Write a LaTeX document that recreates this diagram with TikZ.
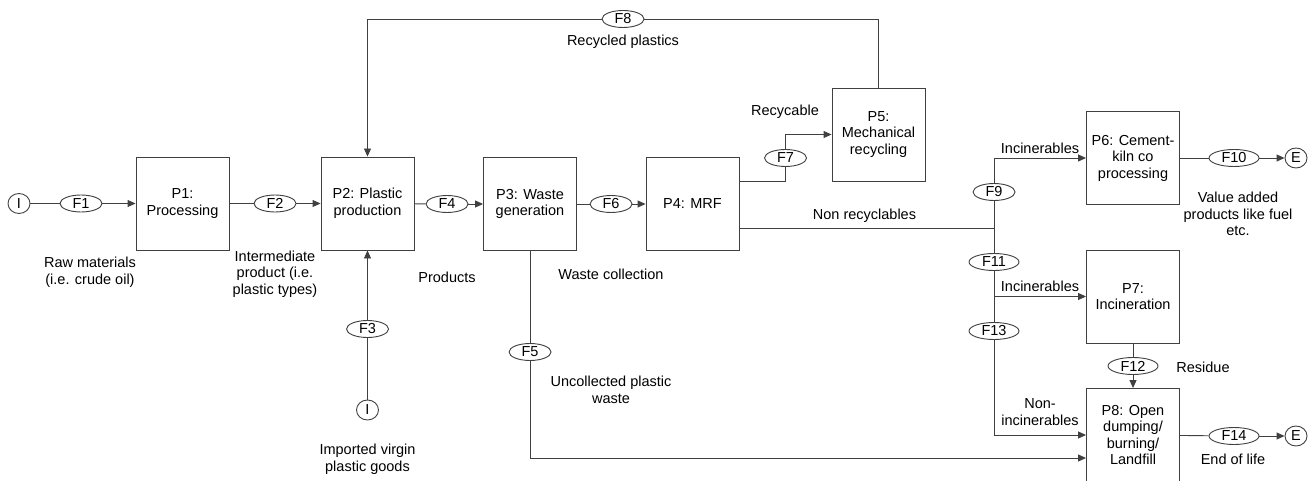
\documentclass[tikz,border=0pt]{standalone}
\usepackage{fontspec}
\setmainfont{Liberation Sans}
\usetikzlibrary{arrows.meta,shapes.geometric}

\begin{document}
\begin{tikzpicture}
[x=1pt,y=-1pt,
  every node/.style={font=\fontsize{14.5}{16.5}\selectfont,text=black},
  procdecorate/.style={draw=black!75,line width=0.9pt,minimum width=93pt,
    minimum height=93pt,align=center,inner sep=2pt},
  flowdecorate/.style={draw=black!75,line width=0.9pt,ellipse,minimum width=42pt,
    minimum height=17pt,inner sep=0pt},
  widedecorate/.style={flowdecorate,minimum width=50pt},
  enddecorate/.style={draw=black!75,line width=0.9pt,ellipse,minimum width=22pt,
    minimum height=20pt,inner sep=0pt},
  labeldecorate/.style={align=center,inner sep=0pt},
  linedecorate/.style={-,draw=black!75,line width=0.9pt},
  arrowdecorate/.style={-{Triangle[length=8pt,width=7pt]},draw=black!75,line width=0.9pt}]
\useasboundingbox (0,0) rectangle (1314,481);
%% processes
\foreach \nodename/\code/\x/\y in {p1/{P1:\\Processing}/182.5/203.5,
  p2/{P2: Plastic\\production}/367.5/203.5, p3/{P3: Waste\\generation}/530/204,
  p4/{P4: MRF}/692.5/204, p5/{P5:\\Mechanical\\recycling}/878.5/134.5,
  p6/{P6: Cement-\\kiln co\\processing}/1133/158, p7/{P7:\\Incineration}/1133/296.5,
  p8/{P8: Open\\dumping/\\burning/\\Landfill}/1133/435} {
  \node (\nodename) at (\x,\y) [procdecorate] {\code};
}
%% flows
\foreach \nodename/\code/\x/\y in {f1/F1/81/203.5, f2/F2/275/203.5, f3/F3/367.5/329,
  f4/F4/447/204, f5/F5/530/352, f6/F6/611/204, f7/F7/785.5/158, f8/F8/623/19,
  f9/F9/994/192} {
  \node (\nodename) at (\x,\y) [flowdecorate] {\code};
}
\foreach \nodename/\code/\x/\y in {f10/F10/1234/158, f11/F11/994/262,
  f12/F12/1133/366, f13/F13/994/331, f14/F14/1234/436} {
  \node (\nodename) at (\x,\y) [widedecorate] {\code};
}
%% inputs and ends
\foreach \nodename/\code/\x/\y in {i1/I/19/203.5, i2/I/367.5/410, e1/E/1296/158,
  e2/E/1296/436} {
  \node (\nodename) at (\x,\y) [enddecorate] {\code};
}
%% texts
\foreach \nodename/\code/\x/\y in {rawlbl/{Raw materials\\(i.e. crude oil)}/90/272,
  interlbl/{Intermediate\\product (i.e.\\plastic types)}/275/274,
  prodlbl/Products/447/277, collectlbl/{Waste collection}/611/274,
  importlbl/{Imported virgin\\plastic goods}/367.5/459,
  uncollectlbl/{Uncollected plastic\\waste}/611/390,
  recycledlbl/{Recycled plastics}/623/42, recyclbl/Recycable/785/112,
  nonreclbl/{Non recyclables}/864.5/216, incinlbl/Incinerables/1040/148,
  incinlblb/Incinerables/1040/286, nonincinlbl/{Non-\\incinerables}/1040/412,
  valuelbl/{Value added\\products like fuel\\etc.}/1238/214,
  residuelbl/Residue/1203/367, endlbl/{End of life}/1233/459} {
  \node (\nodename) at (\x,\y) [labeldecorate] {\code};
}
\coordinate (junc) at (994,228);
%% edges
\path
\foreach \startnode/\endnode in {i1/f1, p1/f2, p2/f4, p3/f6, i2/f3, p3/f5,
  p7/f12, p6/f10, p8/f14, junc/f9, junc/f11, f11/f13} {
  (\startnode) edge[linedecorate] (\endnode)
};
\path
\foreach \startnode/\endnode in {f1/p1, f2/p2, f4/p3, f6/p4, f3/p2, f12/p8,
  f10/e1, f14/e2} {
  (\startnode) edge[arrowdecorate] (\endnode)
};
\draw[linedecorate] ([yshift=23pt]p4.east) -| (f7);
\draw[arrowdecorate] (f7) |- (p5);
\draw[linedecorate] (p5) |- (f8);
\draw[arrowdecorate] (f8) -| (p2);
\draw[arrowdecorate] (f5) |- ([yshift=-23pt]p8.west);
\draw[linedecorate] ([yshift=-24pt]p4.east) -- (junc);
\draw[arrowdecorate] (f9) |- (p6);
\draw[arrowdecorate] (f11) |- (p7);
\draw[arrowdecorate] (f13) |- (p8);
\end{tikzpicture}
\end{document}
